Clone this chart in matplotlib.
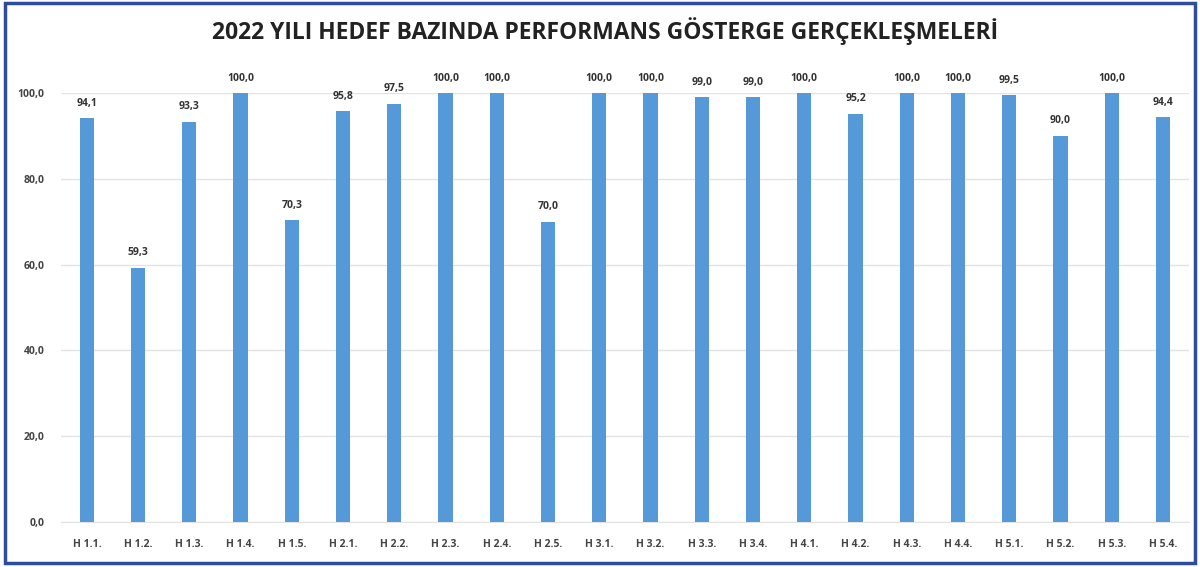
import matplotlib.pyplot as plt
import matplotlib.patches as patches
import numpy as np

# hedef kodlari ve gerceklesme oranlari (%)
labels = ['H 1.1.', 'H 1.2.', 'H 1.3.', 'H 1.4.', 'H 1.5.',
          'H 2.1.', 'H 2.2.', 'H 2.3.', 'H 2.4.', 'H 2.5.',
          'H 3.1.', 'H 3.2.', 'H 3.3.', 'H 3.4.',
          'H 4.1.', 'H 4.2.', 'H 4.3.', 'H 4.4.',
          'H 5.1.', 'H 5.2.', 'H 5.3.', 'H 5.4.']
values = [94.1, 59.3, 93.3, 100.0, 70.3,
          95.8, 97.5, 100.0, 100.0, 70.0,
          100.0, 100.0, 99.0, 99.0,
          100.0, 95.2, 100.0, 100.0,
          99.5, 90.0, 100.0, 94.4]
yticks = [0, 20, 40, 60, 80, 100]

plt.rcParams['font.family'] = ['Open Sans', 'DejaVu Sans']

fig = plt.figure(figsize=[12, 5.67], dpi=100)
ax = fig.add_axes([0.051, 0.0794, 0.9395, 0.7566])

x = np.arange(len(labels))
bars = ax.bar(x, values, width=0.28, color='#5599D8', zorder=3)

for xi, v in zip(x, values):
    ax.text(xi, v + 2.2, f'{v:.1f}'.replace('.', ','), ha='center', va='bottom',
            fontsize=7.5, fontweight='bold', color='#333333', clip_on=False)

ax.set_xlim(-0.5, len(labels) - 0.5)
ax.set_ylim(0, 100)
ax.set_yticks(yticks)
ax.set_yticklabels([f'{t:.1f}'.replace('.', ',') for t in yticks],
                   fontsize=7.5, fontweight='bold', color='#444444')
ax.set_xticks(x)
ax.set_xticklabels(labels, fontsize=7.5, fontweight='bold', color='#444444')
ax.tick_params(axis='both', length=0)
ax.tick_params(axis='x', pad=12)
ax.tick_params(axis='y', pad=12)
ax.grid(axis='y', color='#E3E3E3', lw=1, zorder=0)
for s in ['top', 'right', 'left']:
    ax.spines[s].set_visible(False)
ax.spines['bottom'].set_color('#E3E3E3')

fig.text(0.504, 0.945, '2022 YILI HEDEF BAZINDA PERFORMANS GÖSTERGE GERÇEKLEŞMELERİ',
         ha='center', va='center', fontsize=16.5, fontweight='bold', color='#222222')

# mavi cerceve
frame = patches.Rectangle((0.004, 0.007), 0.992, 0.988, transform=fig.transFigure,
                          fill=False, edgecolor='#2D4C9C', lw=2.5)
fig.patches.append(frame)

fig.savefig('out.png', dpi=100)
